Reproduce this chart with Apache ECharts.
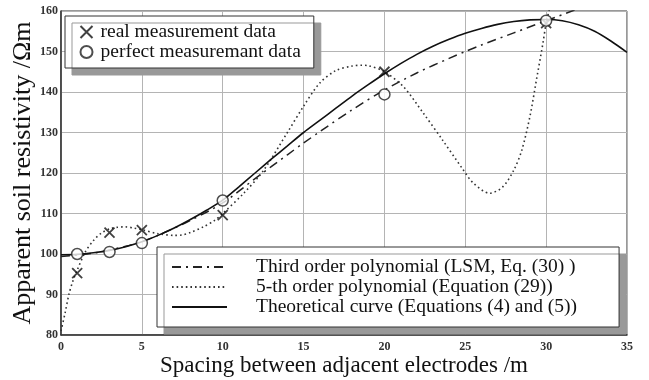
<!DOCTYPE html>
<html>
<head>
<meta charset="utf-8">
<script src="https://cdn.jsdelivr.net/npm/echarts@6/dist/echarts.min.js"></script>
<style>
  html, body { margin: 0; padding: 0; background: #fff; }
  #chart { width: 649px; height: 380px; }
</style>
</head>
<body>
<div id="chart"></div>
<script>
// measured points
const realData = [[1, 95.3], [3, 105.3], [5, 105.9], [10, 109.6], [20, 145], [30, 157]]
const perfectData = [[1, 100], [3, 100.5], [5, 102.7], [10, 113.2], [20, 139.4], [30, 157.6]]

// curves
const thirdOrder = [
  [0, 99.4], [2, 100.2], [4, 101.9], [5, 103.1], [6, 104.6], [8, 108.3], [10, 112.6],
  [12, 118.6], [14, 124.5], [15, 127.4], [16, 130.2], [18, 135.6], [20, 140.5],
  [22, 144.7], [24, 148.3], [25, 150], [26, 151.6], [28, 154.6], [30, 157.6], [32, 160.6]
]
const fifthOrder = [
  [0, 81], [0.25, 85.4], [0.5, 90.2], [0.75, 93.5], [1, 96], [1.5, 100.5], [2, 103.3],
  [2.5, 105.2], [3, 106.2], [3.5, 106.6], [4, 106.7], [4.5, 106.4], [5, 106], [6, 105],
  [7, 104.6], [7.5, 104.7], [8, 105.3], [8.8, 106.7], [9.5, 108.3], [10, 110], [11.3, 115],
  [12.5, 120.5], [14, 130], [15, 136.5], [16, 142.2], [17, 145.3], [18, 146.4], [18.6, 146.6],
  [19, 146.5], [20, 145], [21.2, 141.2], [22.4, 134.8], [23.6, 128.1], [24.8, 121.2],
  [25.5, 117.5], [26.5, 115], [27.3, 116.5], [28, 120.7], [28.5, 125.7], [29, 134],
  [29.4, 143], [29.8, 152], [30, 157], [30.3, 162]
]
const theoretical = [
  [0, 99.8], [1, 99.9], [2, 100.3], [3, 100.9], [4, 101.8], [5, 103], [6, 104.6], [7, 106.4],
  [8, 108.5], [9, 110.8], [10, 113.3], [11, 116.6], [12, 120], [13, 123.4], [14, 126.7],
  [15, 130], [16, 133], [17, 136], [18, 139], [19, 141.8], [20, 144.5], [21, 147], [22, 149.3],
  [23, 151.3], [24, 153], [25, 154.5], [26, 155.7], [27, 156.7], [28, 157.4], [29, 157.8],
  [30, 157.9], [31, 157.6], [32, 156.6], [33, 155], [34, 152.6], [35, 149.8]
]

const xTicks = { min: 0, max: 35, interval: 5 }
const yTicks = { min: 80, max: 160, interval: 10 }

const font = 'Liberation Serif'
const chart = echarts.init(document.getElementById('chart'))

const legendBase = {
  orient: 'vertical',
  backgroundColor: '#fff',
  borderColor: '#333',
  borderWidth: 1,
  shadowColor: '#999',
  shadowBlur: 0,
  shadowOffsetX: 7,
  shadowOffsetY: 7,
  itemGap: 0,
  selectedMode: false
}

const option = {
  animation: false,
  grid: {
    left: 61, right: 22, top: 11, bottom: 45,
    outerBoundsMode: 'none',
    show: true, borderColor: '#333', borderWidth: 1
  },
  legend: [
    Object.assign({}, legendBase, {
      left: 65, top: 16,
      padding: [6, 13, 6, 13],
      itemWidth: 12, itemHeight: 12,
      data: ['real measurement data', 'perfect measuremant data'],
      textStyle: { fontFamily: font, fontSize: 19.5, color: '#111', lineHeight: 18, padding: [0, 0, 0, 3] }
    }),
    Object.assign({}, legendBase, {
      left: 157, top: 247,
      padding: [10, 42, 10, 14],
      itemWidth: 55, itemHeight: 12,
      itemStyle: { opacity: 0 },
      data: ['Third order polynomial (LSM, Eq. (30) )', '5-th order polynomial (Equation (29))', 'Theoretical curve (Equations (4) and (5))'],
      textStyle: { fontFamily: font, fontSize: 19.5, color: '#111', lineHeight: 20, padding: [0, 0, 0, 24] }
    })
  ],
  xAxis: {
    type: 'value',
    min: xTicks.min, max: xTicks.max, interval: xTicks.interval,
    name: 'Spacing between adjacent electrodes /m',
    nameLocation: 'middle',
    nameMoveOverlap: false,
    nameGap: 19,
    nameTextStyle: { fontFamily: font, fontSize: 23, color: '#111' },
    axisLine: { lineStyle: { color: '#333', width: 1.5 } },
    axisTick: { show: false },
    axisLabel: { margin: 6, fontFamily: font, fontSize: 12, fontWeight: 'bold', color: '#333' },
    splitLine: { show: true, lineStyle: { color: '#b4b4b4', width: 1 } }
  },
  yAxis: {
    type: 'value',
    min: yTicks.min, max: yTicks.max, interval: yTicks.interval,
    name: 'Apparent soil resistivity /Ωm',
    nameLocation: 'middle',
    nameMoveOverlap: false,
    nameGap: 25,
    nameTextStyle: { fontFamily: font, fontSize: 26, color: '#111' },
    axisLine: { show: true, lineStyle: { color: '#333', width: 1.5 } },
    axisTick: { show: false },
    axisLabel: { margin: 3, fontFamily: font, fontSize: 12, fontWeight: 'bold', color: '#333' },
    splitLine: { show: true, lineStyle: { color: '#b4b4b4', width: 1 } }
  },
  series: [
    {
      name: 'Third order polynomial (LSM, Eq. (30) )',
      type: 'line', smooth: 0.3, symbol: 'none',
      lineStyle: { color: '#222', width: 1.5, type: [9, 5, 2, 5] },
      itemStyle: { color: '#222' },
      data: thirdOrder
    },
    {
      name: '5-th order polynomial (Equation (29))',
      type: 'line', smooth: 0.3, symbol: 'none',
      lineStyle: { color: '#333', width: 1.6, type: [1.6, 3] },
      itemStyle: { color: '#333' },
      data: fifthOrder
    },
    {
      name: 'Theoretical curve (Equations (4) and (5))',
      type: 'line', smooth: 0.3, symbol: 'none',
      lineStyle: { color: '#111', width: 1.6 },
      itemStyle: { color: '#111' },
      data: theoretical
    },
    {
      name: 'real measurement data',
      type: 'scatter',
      symbol: 'path://M0,0L10,10M10,0L0,10',
      symbolSize: 10,
      itemStyle: { color: 'none', borderColor: '#111', borderWidth: 1.8 },
      data: realData,
      z: 5
    },
    {
      name: 'perfect measuremant data',
      type: 'scatter',
      symbol: 'circle',
      symbolSize: 11,
      itemStyle: { color: '#fff', borderColor: '#222', borderWidth: 1.5 },
      data: perfectData,
      z: 5
    }
  ]
}

chart.setOption(option)
</script>
</body>
</html>
